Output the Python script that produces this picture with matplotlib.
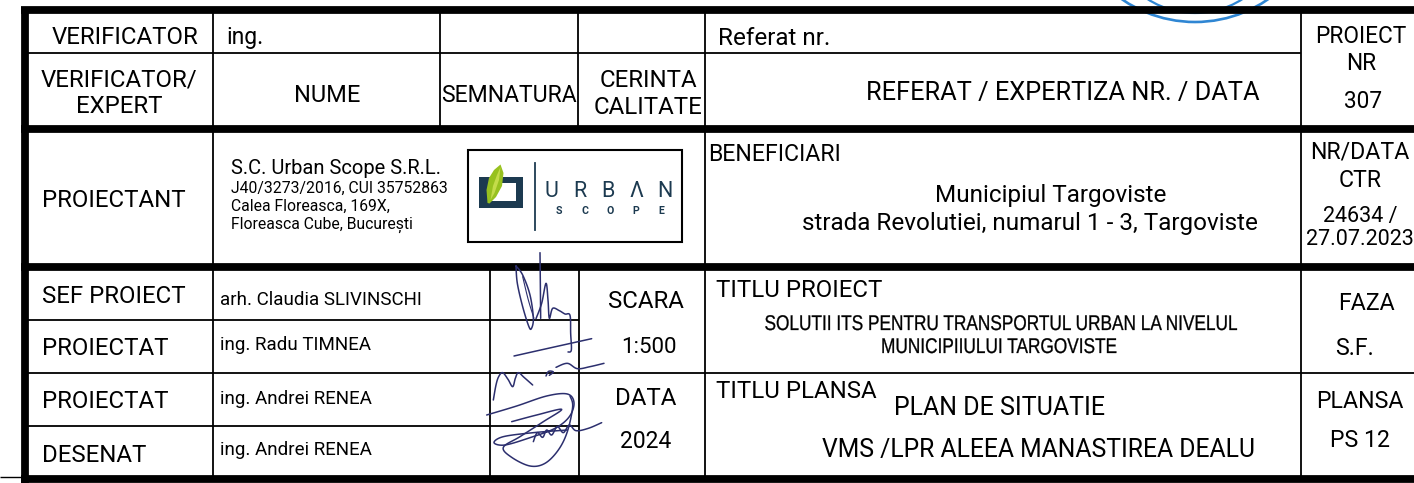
import matplotlib
matplotlib.use("Agg")
import matplotlib.pyplot as plt
from matplotlib import font_manager
from matplotlib.patches import Rectangle, Polygon, Arc
from matplotlib.patheffects import AbstractPathEffect
from matplotlib.transforms import Affine2D
import numpy as np

# ---------------- data: texts of the title block ----------------
verif_label = "VERIFICATOR"
verif_name = "ing."
referat_label = "Referat nr."
header_verif = ["VERIFICATOR/", "EXPERT"]
header_name = "NUME"
header_sign = "SEMNATURA"
header_quality = ["CERINTA", "CALITATE"]
header_referat = "REFERAT / EXPERTIZA NR. / DATA"
project_no_label = ["PROIECT", "NR"]
project_no_value = "307"
designer_label = "PROIECTANT"
company_name = "S.C. Urban Scope S.R.L."
company_details = ["J40/3273/2016, CUI 35752863", "Calea Floreasca, 169X,", "Floreasca Cube, București"]
logo_word = ["U", "R", "B", "Λ", "N"]
logo_sub = ["S", "C", "O", "P", "E"]
beneficiary_label = "BENEFICIARI"
beneficiary_lines = ["Municipiul Targoviste", "strada Revolutiei, numarul 1 - 3, Targoviste"]
contract_label = ["NR/DATA", "CTR"]
contract_value = ["24634 /", "27.07.2023"]
roles = ["SEF PROIECT", "PROIECTAT", "PROIECTAT", "DESENAT"]
names = ["arh. Claudia SLIVINSCHI", "ing. Radu TIMNEA", "ing. Andrei RENEA", "ing. Andrei RENEA"]
scale_label, scale_value = "SCARA", "1:500"
date_label, date_value = "DATA", "2024"
project_title_label = "TITLU PROIECT"
project_title = ["SOLUTII ITS PENTRU TRANSPORTUL URBAN LA NIVELUL", "MUNICIPIIULUI TARGOVISTE"]
sheet_title_label = "TITLU PLANSA"
sheet_title = ["PLAN DE SITUATIE", "VMS /LPR ALEEA MANASTIREA DEALU"]
phase_label, phase_value = "FAZA", "S.F."
sheet_label, sheet_value = "PLANSA", "PS 12"

# ---------------- styling ----------------
INK = "#000000"
NAVY = "#1c3a50"
GREEN = "#97c11f"
GREEN2 = "#c4dc4a"
SIGN = "#2c2f6e"
STAMP = "#2f86d3"
CAD = ["Roboto", "DejaVu Sans"]
CADW = "normal"


def has_font(name):
    try:
        font_manager.findfont(font_manager.FontProperties(family=name), fallback_to_default=False)
        return True
    except Exception:
        return False


NARROW = ["Liberation Sans Narrow", "DejaVu Sans"] if has_font("Liberation Sans Narrow") \
    else ["Liberation Sans", "DejaVu Sans"]

W, H = 1414, 483
fig = plt.figure(figsize=(W / 100, H / 100), dpi=100)
ax = fig.add_axes([0, 0, 1, 1])
ax.set_xlim(0, W)
ax.set_ylim(H, 0)
ax.axis("off")

THICK = 5.6
THIN = 1.3


def hline(y, x0, x1, lw=THIN):
    ax.plot([x0, x1], [y, y], color=INK, lw=lw, solid_capstyle="butt")


def vline(x, y0, y1, lw=THIN):
    ax.plot([x, x], [y0, y1], color=INK, lw=lw, solid_capstyle="butt")


def T(x, y, s, size=17, ha="center", fam=None, weight=None, color=INK):
    return ax.text(x, y, s, fontsize=size, ha=ha, va="baseline",
                   family=fam or CAD, fontweight=weight or CADW, color=color)


class Squeeze(AbstractPathEffect):
    """Horizontally condense a text about its anchor (like a narrow CAD text style)."""

    def __init__(self, sx, cx, embolden=0.2):
        super().__init__()
        self.sx, self.cx, self.emb = sx, cx, embolden

    def draw_path(self, renderer, gc, tpath, affine, rgbFace=None):
        cxd = ax.transData.transform((self.cx, 0))[0]
        aff = affine + Affine2D().translate(-cxd, 0).scale(self.sx, 1).translate(cxd, 0)
        gc0 = renderer.new_gc()
        gc0.copy_properties(gc)
        gc0.set_linewidth(self.emb)
        gc0.set_foreground(rgbFace if rgbFace is not None else INK)
        renderer.draw_path(gc0, tpath, aff, rgbFace)
        gc0.restore()


# ---------------- grid ----------------
XL = 24.7
hline(53, XL, 1301)
for y in (320, 426):
    hline(y, XL, 579)
hline(373, XL, W)
for x in (213, 705, 1301):
    vline(x, 10, 479)
for x in (440, 578):
    vline(x, 10, 129)
for x in (490, 579):
    vline(x, 267, 479)
hline(476.5, 0, 21, lw=1.0)
for y in (10.3, 129, 267, 479):
    hline(y, 21, W, lw=THICK)
vline(XL, 6.5, H, lw=THICK)

# ---------------- stamp fragment (top right) ----------------
ax.add_patch(Arc((1195, -107), 258, 258, theta1=0, theta2=180, color=STAMP, lw=1.9))
ax.add_patch(Arc((1195, -75), 176, 176, theta1=0, theta2=180, color=STAMP, lw=1.6))

# ---------------- texts: verifier block ----------------
T(125, 44, verif_label, size=17.3)
T(226, 44, verif_name, ha="left", size=16.5)
T(718, 45, referat_label, ha="left", size=17.5)
T(119, 87, header_verif[0], size=17.3)
T(119, 113, header_verif[1], size=17.3)
T(327, 102, header_name, size=17)
T(509, 102, header_sign, size=16.6)
T(648, 87, header_quality[0], size=17.3)
T(648, 114, header_quality[1], size=17.3)
T(1063, 100, header_referat, size=18.3)
T(1361, 43, project_no_label[0], size=16.3)
T(1361, 70, project_no_label[1], size=16.3)
T(1363, 108, project_no_value, size=16.3)

# ---------------- designer block ----------------
T(114, 207, designer_label, size=17.3)
T(231, 174, company_name, ha="left", size=14.5)
for yb, line in zip((193, 211, 229), company_details):
    T(231, yb, line, ha="left", size=11.3)

# logo
ax.add_patch(Rectangle((467.5, 149.5), 214, 92, fill=False, ec=INK, lw=1.5))
ax.add_patch(Rectangle((479.3, 177.3), 44, 31, fc=NAVY, ec="none"))
ax.add_patch(Rectangle((490, 182.8), 25.5, 18, fc="white", ec="none"))
ax.add_patch(Polygon([(487.5, 203), (486.5, 190), (489, 178), (494, 170), (500.5, 164.5),
                      (503.5, 173), (502, 186), (496, 197), (489.5, 203.5)],
                     closed=True, fc=GREEN, ec="none"))
ax.add_patch(Polygon([(490.5, 200), (493, 186), (497, 175), (500.5, 167), (499, 180), (494.5, 193)],
                     closed=True, fc=GREEN2, ec="none"))
ax.plot([535, 535], [163, 230], color=NAVY, lw=1.3)
for xc, ch in zip(np.linspace(551.7, 665, len(logo_word)), logo_word):
    T(xc, 197, ch, size=15.5, color=NAVY, weight="normal")
for xc, ch in zip(np.linspace(559, 661.7, len(logo_sub)), logo_sub):
    T(xc, 214, ch, size=7.6, weight="bold", color=NAVY)

T(708, 161, beneficiary_label, ha="left", size=16.7)
T(1051, 202, beneficiary_lines[0], size=17.5)
T(1030, 230, beneficiary_lines[1], size=17.5)
T(1360, 158, contract_label[0], size=16.7)
T(1360, 187, contract_label[1], size=16.7)
T(1360, 222, contract_value[0], size=15.5)
T(1360, 245, contract_value[1], size=15.5)

# ---------------- bottom block ----------------
for yb, role in zip((303, 355, 408, 462), roles):
    T(42, yb, role, ha="left", size=17.3)
for yb, name in zip((305, 350, 404, 455), names):
    T(220, yb, name, ha="left", size=13.5)
T(646, 308, scale_label, size=17.3)
T(649, 353, scale_value, size=16)
T(646, 405, date_label, size=17.3)
T(646, 448, date_value, size=16.5)
T(716, 297, project_title_label, ha="left", size=17.3)

# project title in a condensed sans style
pt1 = T(1001, 330, project_title[0], size=15.3, fam=NARROW, weight="normal")
pt2 = T(999, 353, project_title[1], size=15.3, fam=NARROW, weight="normal")
fig.canvas.draw()
rend = fig.canvas.get_renderer()
sx = min(1.0, 473.0 / pt1.get_window_extent(rend).width)
pt1.set_path_effects([Squeeze(sx, 1001)])
pt2.set_path_effects([Squeeze(sx, 999)])

T(716, 398, sheet_title_label, ha="left", size=17.3)
T(1000, 415, sheet_title[0], size=18)
T(1038, 457, sheet_title[1], size=17.8)
T(1366, 310, phase_label, size=16.7)
T(1355, 355, phase_value, size=16.7)
T(1360, 408, sheet_label, size=16.7)
T(1360, 447, sheet_value, size=16.7)


# ---------------- signatures (decorative strokes) ----------------
def smooth(pts, n=10):
    p = np.array(pts, dtype=float)
    p = np.vstack([p[0], p, p[-1]])
    out = []
    for i in range(1, len(p) - 2):
        p0, p1, p2, p3 = p[i - 1], p[i], p[i + 1], p[i + 2]
        for t in np.linspace(0, 1, n, endpoint=False):
            t2, t3 = t * t, t * t * t
            out.append(0.5 * ((2 * p1) + (-p0 + p2) * t + (2 * p0 - 5 * p1 + 4 * p2 - p3) * t2
                              + (-p0 + 3 * p1 - 3 * p2 + p3) * t3))
    out.append(p[-2])
    return np.array(out)


def sig(pts, lw=1.1):
    p = smooth(pts) / 3.0 + np.array([480.0, 250.0])
    ax.plot(p[:, 0], p[:, 1], color=SIGN, lw=lw, solid_joinstyle="round", solid_capstyle="round")


# signature 1
sig([(108, 48), (112, 100), (128, 170), (146, 228), (154, 236), (160, 205), (150, 135), (128, 75), (108, 48)])
sig([(128, 80), (145, 150), (162, 205)], lw=0.8)
sig([(180, 8), (181, 100), (182, 205)])
sig([(168, 206), (185, 160), (198, 100), (204, 150), (208, 205), (218, 175), (238, 182), (255, 192),
     (270, 196), (272, 250), (274, 300), (264, 306)])
# signature 2
sig([(102, 318), (200, 296), (335, 266)])
sig([(40, 450), (48, 405), (56, 380), (68, 368), (84, 388), (98, 410), (106, 385), (115, 368),
     (132, 382), (158, 405)])
sig([(198, 378), (206, 364), (220, 366), (208, 376)])
sig([(228, 352), (262, 340), (292, 356), (330, 350), (372, 340)])
# signature 3
sig([(20, 495), (110, 468), (200, 438), (262, 432), (282, 458), (268, 500), (225, 535), (150, 563),
     (75, 585), (42, 578), (70, 560), (160, 548), (262, 540)])
sig([(95, 515), (170, 495), (245, 478), (190, 515), (120, 560), (70, 592), (95, 622), (150, 648),
     (195, 640), (235, 600), (262, 545), (278, 470), (270, 438)])
sig([(160, 575), (172, 548), (188, 562), (200, 540), (215, 555), (232, 530), (250, 548), (268, 525),
     (288, 542), (325, 535), (365, 518)])

fig.savefig("out.png", dpi=100)
